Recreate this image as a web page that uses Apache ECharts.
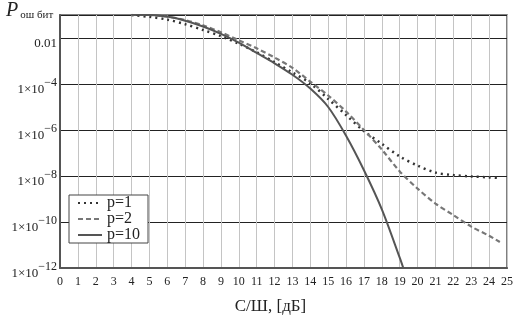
<!DOCTYPE html>
<html>
<head>
<meta charset="utf-8">
<script src="https://cdn.jsdelivr.net/npm/echarts@6/dist/echarts.min.js"></script>
<style>html,body{margin:0;padding:0;background:#fff}#c{width:522px;height:321px}</style>
</head>
<body>
<div id="c"></div>
<script>
// x values (С/Ш, dB)
const snr = [4, 5, 6, 7, 8, 9, 10, 11, 12, 13, 14, 15, 16, 17, 18, 19, 20, 21, 22, 23, 24, 24.6];
const snrP10 = [4, 5, 6, 7, 8, 9, 10, 11, 12, 13, 14, 15, 16, 17, 18, 19, 19.2];
// log10 of bit error probability
const p1Log10 = [-1.0, -1.08, -1.2, -1.4, -1.65, -1.92, -2.25, -2.62, -3.05, -3.5, -3.97, -4.65, -5.35, -6.05, -6.6, -7.15, -7.55, -7.85, -7.96, -8.02, -8.06, -8.09];
const p2Log10 = [-0.98, -1.0, -1.07, -1.22, -1.45, -1.75, -2.1, -2.45, -2.85, -3.3, -3.9, -4.5, -5.2, -6.0, -6.85, -7.8, -8.55, -9.2, -9.7, -10.2, -10.6, -10.87];
const p10Log10 = [-0.98, -1.0, -1.07, -1.25, -1.5, -1.82, -2.2, -2.65, -3.1, -3.6, -4.2, -5.0, -6.25, -7.75, -9.45, -11.55, -12.0];
const seriesNames = ['p=1', 'p=2', 'p=10'];
const xTicks = [0, 25, 1];
const yExpTicks = [-12, -10, -8, -6, -4, -2];

const toPairs = (xs, ls) => xs.map((x, i) => [x, Math.pow(10, ls[i])]);
const font = 'Liberation Serif';

const chart = echarts.init(document.getElementById('c'));
chart.setOption({
  animation: false,
  backgroundColor: '#fff',
  grid: { left: 60, right: 15, top: 15, bottom: 53, show: true, borderColor: '#555', borderWidth: 1.5, backgroundColor: 'transparent' },
  xAxis: {
    type: 'value', min: xTicks[0], max: xTicks[1], interval: xTicks[2],
    axisLine: { show: true, lineStyle: { color: '#555', width: 2 } },
    axisTick: { show: false },
    axisLabel: { color: '#222', fontFamily: font, fontSize: 12, margin: 8 },
    splitLine: { show: true, lineStyle: { color: '#c4c4c4', width: 1 } },
    name: 'С/Ш, [дБ]', nameLocation: 'middle', nameGap: 30,
    nameTextStyle: { color: '#222', fontFamily: font, fontSize: 17, padding: [0, 26, 0, 0] }
  },
  yAxis: {
    type: 'log', logBase: 10, min: 1e-12, max: 0.1, interval: 2,
    axisLine: { show: true, lineStyle: { color: '#555', width: 2 } },
    axisTick: { show: false },
    splitLine: { show: true, lineStyle: { color: '#222', width: 1 } },
    axisLabel: {
      margin: 3, color: '#222', fontFamily: font, fontSize: 13, padding: [9, 0, 0, 0],
      formatter: function (v) {
        const e = Math.round(Math.log10(v));
        if (yExpTicks.indexOf(e) < 0) return '';
        if (e === -2) return '{z|0.01}';
        return '{b|1×10}{s|−' + (-e) + '}';
      },
      rich: {
        z: { fontFamily: font, fontSize: 13, color: '#222', lineHeight: 15, verticalAlign: 'bottom' },
        b: { fontFamily: font, fontSize: 13, color: '#222', lineHeight: 15, verticalAlign: 'bottom' },
        s: { fontFamily: font, fontSize: 12, color: '#222', lineHeight: 13, verticalAlign: 'bottom', padding: [0, 0, 7, 0] }
      }
    }
  },
  legend: {
    orient: 'vertical', left: 69, top: 195,
    backgroundColor: '#fff', borderColor: '#444', borderWidth: 1,
    padding: [0, 8, 0, 8], itemGap: 0, itemWidth: 24, itemHeight: 11,
    itemStyle: { opacity: 0 },
    textStyle: { fontFamily: font, fontSize: 16, color: '#222', lineHeight: 13 },
    data: seriesNames
  },
  graphic: [{
    type: 'text', left: 6, top: 1,
    style: {
      text: '{p|P}{s|ош бит}',
      rich: {
        p: { fontFamily: font, fontStyle: 'italic', fontSize: 20, fill: '#222', lineHeight: 22, verticalAlign: 'bottom' },
        s: { fontFamily: font, fontSize: 11, fill: '#222', lineHeight: 22, verticalAlign: 'bottom', padding: [0, 0, 0, 2] }
      }
    }
  }],
  series: [
    { name: seriesNames[0], type: 'line', data: toPairs(snr, p1Log10), smooth: 0.3, symbol: 'none', clip: true,
      lineStyle: { color: '#333', width: 2.5, type: [2, 4] }, itemStyle: { color: '#333' } },
    { name: seriesNames[1], type: 'line', data: toPairs(snr, p2Log10), smooth: 0.3, symbol: 'none', clip: true,
      lineStyle: { color: '#777', width: 2.2, type: [5, 3] }, itemStyle: { color: '#777' } },
    { name: seriesNames[2], type: 'line', data: toPairs(snrP10, p10Log10), smooth: 0.3, symbol: 'none', clip: true,
      lineStyle: { color: '#555', width: 2, type: 'solid' }, itemStyle: { color: '#555' } }
  ]
});
</script>
</body>
</html>
